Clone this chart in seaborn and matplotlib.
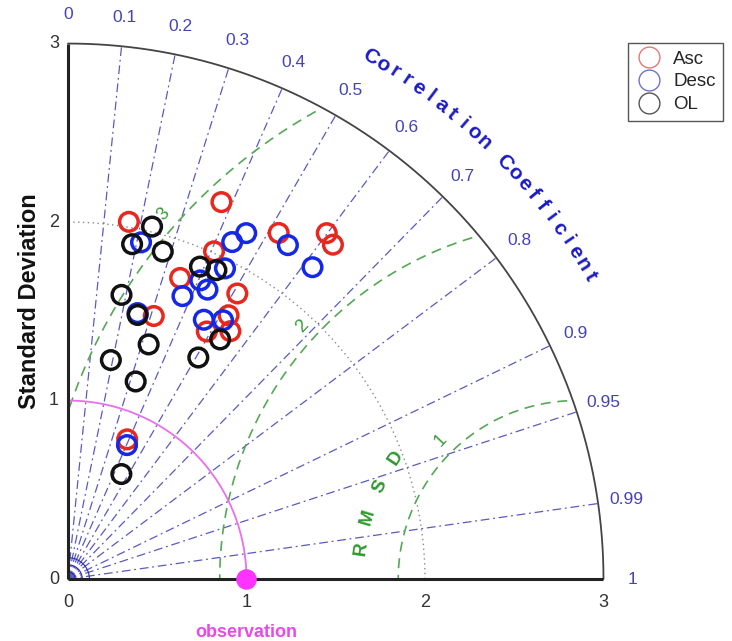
import matplotlib.pyplot as plt
import numpy as np
import pandas as pd
import seaborn as sns
from matplotlib.lines import Line2D

# standard deviation and correlation of each run
asc_std = [2.03, 2.28, 2.01, 1.80, 1.86, 2.27, 2.42, 2.39, 1.55, 1.73, 1.59, 1.66, 0.85]
asc_corr = [0.168, 0.377, 0.407, 0.349, 0.510, 0.520, 0.599, 0.621, 0.310, 0.520, 0.489, 0.548, 0.390]

desc_std = [1.93, 1.54, 1.71, 1.80, 1.95, 2.10, 2.18, 2.24, 2.22, 1.64, 1.69, 1.83, 0.82]
desc_corr = [0.212, 0.253, 0.375, 0.434, 0.451, 0.438, 0.458, 0.550, 0.617, 0.464, 0.514, 0.405, 0.403]

ol_std = [2.03, 1.91, 1.91, 1.62, 1.53, 1.25, 1.39, 1.17, 0.66, 1.90, 1.92, 1.44, 1.59]
ol_corr = [0.232, 0.188, 0.278, 0.185, 0.255, 0.192, 0.325, 0.324, 0.453, 0.389, 0.433, 0.507, 0.536]

groups = ["Asc", "Desc", "OL"]
group_colors = {"Asc": "#e8281e", "Desc": "#1428e6", "OL": "#111111"}
legend_colors = ["#e07a74", "#6f74c8", "#555555"]

corr_ticks = [0, 0.1, 0.2, 0.3, 0.4, 0.5, 0.6, 0.7, 0.8, 0.9, 0.95, 0.99, 1]
corr_labels = ["0", "0.1", "0.2", "0.3", "0.4", "0.5", "0.6", "0.7", "0.8", "0.9", "0.95", "0.99", "1"]
std_ticks = [0, 1, 2, 3]
rmsd_levels = [1, 2, 3]
rmsd_label_angles = [134.5, 137.3, 138.6]
rmsd_center = 2.85
obs_std = 1.0
std_max = 3.0

CORR_COLOR = "#5a5ac0"
GREEN = "#55a855"

sns.set_theme(style="white")
plt.rcParams["font.family"] = ["Liberation Sans", "DejaVu Sans"]

frames = []
for name, s, c in [("Asc", asc_std, asc_corr), ("Desc", desc_std, desc_corr), ("OL", ol_std, ol_corr)]:
    s = np.array(s)
    c = np.array(c)
    frames.append(pd.DataFrame({
        "group": name,
        "x": s * c,
        "y": s * np.sqrt(1 - c ** 2),
    }))
df = pd.concat(frames, ignore_index=True)

fig = plt.figure(figsize=(7.32, 6.41), dpi=100)
ax = fig.add_axes([0, 0, 1, 1])
ax.set_xlim(-0.381, 3.720)
ax.set_ylim(-0.347, 3.244)
ax.axis("off")

t = np.linspace(0, np.pi / 2, 400)

# correlation rays
for c in corr_ticks[1:-1]:
    th = np.arccos(c)
    ax.plot([0, std_max * np.cos(th)], [0, std_max * np.sin(th)],
            color=CORR_COLOR, lw=0.9, ls=(0, (7, 3, 1.5, 3)), zorder=1)
for r in [0.04, 0.08, 0.12]:
    ax.plot(r * np.cos(t), r * np.sin(t), color="#2a2ab0", lw=0.8, zorder=1)

# std arcs
ax.plot(2 * np.cos(t), 2 * np.sin(t), color="#8a8a8a", lw=1.0, ls=(0, (1, 2.5)), zorder=1)
ax.plot(std_max * np.cos(t), std_max * np.sin(t), color="#444444", lw=1.3, zorder=2)
ax.plot(obs_std * np.cos(t), obs_std * np.sin(t), color="#e870e8", lw=1.3, zorder=2)

# RMSD contours, clipped inside the outer arc
phi = np.linspace(0, np.pi, 800)
for lev, ang in zip(rmsd_levels, rmsd_label_angles):
    xs = rmsd_center + lev * np.cos(phi)
    ys = lev * np.sin(phi)
    ok = (np.hypot(xs, ys) <= 2.97) & (xs >= 0)
    xs = np.where(ok, xs, np.nan)
    ys = np.where(ok, ys, np.nan)
    ax.plot(xs, ys, color=GREEN, lw=1.2, ls=(0, (6, 4)), zorder=1)
    a = np.deg2rad(ang)
    ax.text(rmsd_center + (lev + 0.09) * np.cos(a), (lev + 0.09) * np.sin(a), str(lev),
            color="#3a9a3a", fontsize=13, rotation=47, ha="center", va="center")

# RMSD caption along an arc
for i, ch in enumerate("RMSD"):
    a = np.deg2rad(172 - i * 8.6)
    ax.text(rmsd_center + 1.22 * np.cos(a), 1.22 * np.sin(a), ch, color="#2e9a2e",
            fontsize=13.5, fontweight="bold", rotation=np.rad2deg(a) - 90,
            ha="center", va="center")

# axes lines
ax.plot([0, 0], [0, std_max], color="#222222", lw=2.2, zorder=3, solid_capstyle="butt")
ax.plot([0, std_max], [0, 0], color="#222222", lw=2.2, zorder=3, solid_capstyle="butt")

for v in std_ticks:
    ax.text(-0.05, v, str(v), ha="right", va="center", fontsize=13, color="#333333")
    ax.text(v, -0.13, str(v), ha="center", va="center", fontsize=13, color="#333333")

for c, lab in zip(corr_ticks, corr_labels):
    th = np.arccos(c)
    ax.text(3.16 * np.cos(th), 3.16 * np.sin(th), lab, ha="center", va="center",
            fontsize=12.5, color="#4444b8")

# curved axis title
title = "Correlation Coefficient"
angles = np.linspace(59.9, 30.1, len(title))
for ch, ang in zip(title, angles):
    a = np.deg2rad(ang)
    ax.text(3.38 * np.cos(a), 3.38 * np.sin(a), ch, ha="center", va="center",
            rotation=ang - 90, fontsize=15, fontweight="bold", color="#1c1cc4")

ax.text(-0.213, 1.557, "Standard Deviation", rotation=90, ha="center", va="center",
        fontsize=17, fontweight="bold", color="#111111")

# model points
sns.scatterplot(data=df, x="x", y="y", hue="group", palette=group_colors,
                s=180, linewidth=2.5, legend=False, ax=ax, zorder=4)
pts = ax.collections[-1]
pts.set_edgecolors(pts.get_facecolors())
pts.set_facecolors("none")

# observation
ax.scatter([obs_std], [0], s=190, color="#ff33ff", zorder=6, clip_on=False)
ax.text(obs_std, -0.30, "observation", ha="center", va="center", fontsize=13,
        fontweight="bold", color="#e84ae8")

handles = [Line2D([], [], ls="none", marker="o", markersize=15, markerfacecolor="none",
                  markeredgecolor=col, markeredgewidth=1.0) for col in legend_colors]
leg = fig.legend(handles, groups, loc="upper left", bbox_to_anchor=(0.858, 0.933),
                 borderaxespad=0, frameon=True, fancybox=False, fontsize=13.5,
                 handlelength=1.4, handletextpad=0.6, borderpad=0.4, labelspacing=0.3,
                 edgecolor="#555555", framealpha=1)
leg.get_frame().set_linewidth(1.0)

fig.savefig("out.png", dpi=100)
